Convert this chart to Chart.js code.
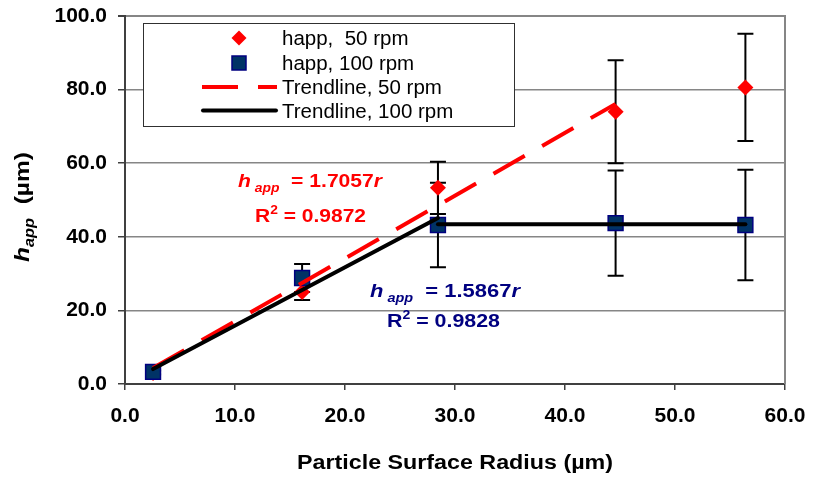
<!DOCTYPE html>
<html>
<head>
<meta charset="utf-8">
<script src="https://cdn.jsdelivr.net/npm/chart.js@4/dist/chart.umd.min.js"></script>
<style>
  html, body { margin: 0; padding: 0; background: #ffffff; }
  canvas { display: block; }
</style>
</head>
<body>
<canvas id="c" width="813" height="483"></canvas>
<script>
// ---- data ----
const radius50 = [2.55, 16.1, 28.45, 44.6, 56.4];
const happ50   = [3.0, 25.0, 53.3, 74.0, 80.6];
const err50    = [0.5, 2.2, 7.1, 14.0, 14.6];

const radius100 = [2.55, 16.1, 28.45, 44.6, 56.4];
const happ100   = [3.3, 28.8, 43.2, 43.7, 43.2];
const err100    = [0.5, 3.8, 11.5, 14.3, 15.0];

const trend50X = [2.55, 44.6];
const trend50Y = [4.35, 76.1];
const trend100X = [2.55, 28.45];
const trend100Y = [4.05, 45.1];
const plateau100X = [28.45, 56.4];
const plateau100Y = [43.4, 43.4];

const xTickLabels = ['0.0', '10.0', '20.0', '30.0', '40.0', '50.0', '60.0'];
const yTickLabels = ['0.0', '20.0', '40.0', '60.0', '80.0', '100.0'];

const legendLabels = ['happ,  50 rpm', 'happ, 100 rpm', 'Trendline, 50 rpm', 'Trendline, 100 rpm'];
const eq50 = ['1.7057', '0.9872'];
const eq100 = ['1.5867', '0.9828'];

const FONT = "'Liberation Sans', Arial, Helvetica, sans-serif";
const zip = (xs, ys) => xs.map((x, i) => ({ x: x, y: ys[i] }));

// ---- helpers ----
function drawRich(ctx, segs, x, y, targetW, color) {
  let natural = 0;
  segs.forEach(s => { ctx.font = s.font; natural += ctx.measureText(s.t).width; });
  const sx = targetW ? targetW / natural : 1;
  ctx.save();
  ctx.translate(x, y);
  ctx.scale(sx, 1);
  ctx.fillStyle = color;
  ctx.textBaseline = 'alphabetic';
  ctx.textAlign = 'left';
  let cx = 0;
  segs.forEach(s => {
    ctx.font = s.font;
    ctx.fillText(s.t, cx, s.dy || 0);
    cx += ctx.measureText(s.t).width;
  });
  ctx.restore();
}

const errorBars = {
  id: 'errorBars',
  beforeDatasetsDraw(chart) {
    const { ctx, scales: { x, y } } = chart;
    ctx.save();
    ctx.strokeStyle = '#000000';
    ctx.lineWidth = 2;
    const draw = (xs, ys, es) => {
      xs.forEach((xv, i) => {
        const px = x.getPixelForValue(xv);
        const top = y.getPixelForValue(ys[i] + es[i]);
        const bot = y.getPixelForValue(ys[i] - es[i]);
        ctx.beginPath();
        ctx.moveTo(px, top); ctx.lineTo(px, bot);
        ctx.moveTo(px - 8, top); ctx.lineTo(px + 8, top);
        ctx.moveTo(px - 8, bot); ctx.lineTo(px + 8, bot);
        ctx.stroke();
      });
    };
    draw(radius50, happ50, err50);
    draw(radius100, happ100, err100);
    // right border of plot
    const a = chart.chartArea;
    ctx.strokeStyle = '#868686';
    ctx.lineWidth = 2;
    ctx.beginPath();
    ctx.moveTo(a.right, a.top - 1); ctx.lineTo(a.right, a.bottom);
    ctx.stroke();
    ctx.restore();
  }
};

const decorations = {
  id: 'decorations',
  afterDraw(chart) {
    const ctx = chart.ctx;
    ctx.save();
    // legend box
    const L = 143, T = 23, R = 515, B = 127;
    ctx.fillStyle = '#ffffff';
    ctx.fillRect(L, T, R - L, B - T);
    ctx.strokeStyle = '#303030';
    ctx.lineWidth = 1;
    ctx.strokeRect(L + 0.5, T + 0.5, R - L - 1, B - T - 1);

    // legend symbols
    const sx = 239;
    ctx.fillStyle = '#ff0000';
    ctx.beginPath();
    ctx.moveTo(sx, 38 - 7.5); ctx.lineTo(sx + 7.5, 38); ctx.lineTo(sx, 38 + 7.5); ctx.lineTo(sx - 7.5, 38);
    ctx.closePath(); ctx.fill();
    ctx.fillStyle = '#003366';
    ctx.strokeStyle = '#000080';
    ctx.lineWidth = 1.5;
    ctx.fillRect(sx - 7, 63 - 7, 14, 14);
    ctx.strokeRect(sx - 7, 63 - 7, 14, 14);
    ctx.strokeStyle = '#ff0000';
    ctx.lineWidth = 4;
    ctx.setLineDash([36, 20]);
    ctx.beginPath(); ctx.moveTo(202, 87); ctx.lineTo(277, 87); ctx.stroke();
    ctx.setLineDash([]);
    ctx.strokeStyle = '#000000';
    ctx.lineCap = 'round';
    ctx.beginPath(); ctx.moveTo(203, 110.5); ctx.lineTo(276, 110.5); ctx.stroke();
    ctx.lineCap = 'butt';

    // legend text
    ctx.fillStyle = '#000000';
    ctx.font = '20.5px ' + FONT;
    ctx.textBaseline = 'alphabetic';
    ctx.textAlign = 'left';
    const base = [45, 69.5, 94, 118];
    legendLabels.forEach((t, i) => ctx.fillText(t, 282, base[i]));

    // equations
    const red = '#ff0000', navy = '#000080';
    const fb = 'bold 19px ' + FONT, fbi = 'italic bold 19px ' + FONT;
    const fs = 'italic bold 12.5px ' + FONT, fsup = 'bold 12.5px ' + FONT;
    drawRich(ctx, [{ t: 'h', font: fbi }, { t: ' app', font: fs, dy: 5 }, { t: '  = ' + eq50[0], font: fb }, { t: 'r', font: fbi }], 238, 187, 144, red);
    drawRich(ctx, [{ t: 'R', font: fb }, { t: '2', font: fsup, dy: -8 }, { t: ' = ' + eq50[1], font: fb }], 255, 222, 111, red);
    drawRich(ctx, [{ t: 'h', font: fbi }, { t: ' app', font: fs, dy: 5 }, { t: '  = ' + eq100[0], font: fb }, { t: 'r', font: fbi }], 370, 297, 150, navy);
    drawRich(ctx, [{ t: 'R', font: fb }, { t: '2', font: fsup, dy: -8 }, { t: ' = ' + eq100[1], font: fb }], 387, 327, 113, navy);

    // x axis title
    drawRich(ctx, [{ t: 'Particle Surface Radius (µm)', font: 'bold 20px ' + FONT }], 297, 469, 316, '#000000');

    // y axis title (rotated)
    ctx.save();
    ctx.translate(29, 262);
    ctx.rotate(-Math.PI / 2);
    drawRich(ctx, [{ t: 'h', font: 'italic bold 21px ' + FONT }, { t: 'app', font: 'italic bold 14px ' + FONT, dy: 5 }, { t: '  (µm)', font: 'bold 21px ' + FONT }], 0, 0, 110, '#000000');
    ctx.restore();

    ctx.restore();
  }
};

new Chart(document.getElementById('c'), {
  type: 'scatter',
  data: {
    datasets: [
      { label: 'Trendline, 100 rpm', data: zip(trend100X, trend100Y), showLine: true, borderColor: '#000000', borderWidth: 4, borderCapStyle: 'round', pointRadius: 0, order: 0 },
      { label: 'plateau', data: zip(plateau100X, plateau100Y), showLine: true, borderColor: '#000000', borderWidth: 4, borderCapStyle: 'round', pointRadius: 0, order: 0 },
      { label: 'Trendline, 50 rpm', data: zip(trend50X, trend50Y), showLine: true, borderColor: '#ff0000', borderWidth: 4, borderDash: [36, 20], pointRadius: 0, order: 1 },
      { label: 'happ, 100 rpm', data: zip(radius100, happ100), pointStyle: 'rect', pointRadius: 10.5, backgroundColor: '#003366', borderColor: '#000080', borderWidth: 1.5, order: 2 },
      { label: 'happ,  50 rpm', data: zip(radius50, happ50), pointStyle: 'rectRot', pointRadius: 8, backgroundColor: '#ff0000', borderColor: '#ff0000', borderWidth: 0, order: 3 }
    ]
  },
  options: {
    responsive: false,
    animation: false,
    events: [],
    layout: { padding: { top: 16, right: 28, left: 0, bottom: 0 } },
    plugins: { legend: { display: false }, tooltip: { enabled: false } },
    scales: {
      x: {
        type: 'linear', min: 0, max: 60,
        ticks: { stepSize: 10, maxRotation: 0, padding: 14, color: '#000000',
                 font: { family: FONT, size: 21, weight: 'bold' },
                 callback: (v, i) => xTickLabels[i] },
        grid: { drawOnChartArea: false, drawTicks: true, tickLength: 6, tickColor: '#404040', lineWidth: 1.5 },
        border: { color: '#404040', width: 2 },
        afterFit(s) { s.height = 99; s.paddingLeft = 0; s.paddingRight = 0; }
      },
      y: {
        min: 0, max: 100,
        ticks: { stepSize: 20, padding: 11, color: '#000000',
                 font: { family: FONT, size: 21, weight: 'bold' },
                 callback: (v, i) => yTickLabels[i] },
        grid: { color: c => (c.tick && c.tick.value === 0) ? 'rgba(0,0,0,0)' : '#868686',
                lineWidth: c => (c.tick && c.tick.value === 100) ? 2 : 1.5,
                tickLength: 7, tickColor: '#404040' },
        border: { color: '#404040', width: 2 },
        afterFit(s) { s.width = 125; s.paddingTop = 0; s.paddingBottom = 0; }
      }
    }
  },
  plugins: [errorBars, decorations]
});
</script>
</body>
</html>
